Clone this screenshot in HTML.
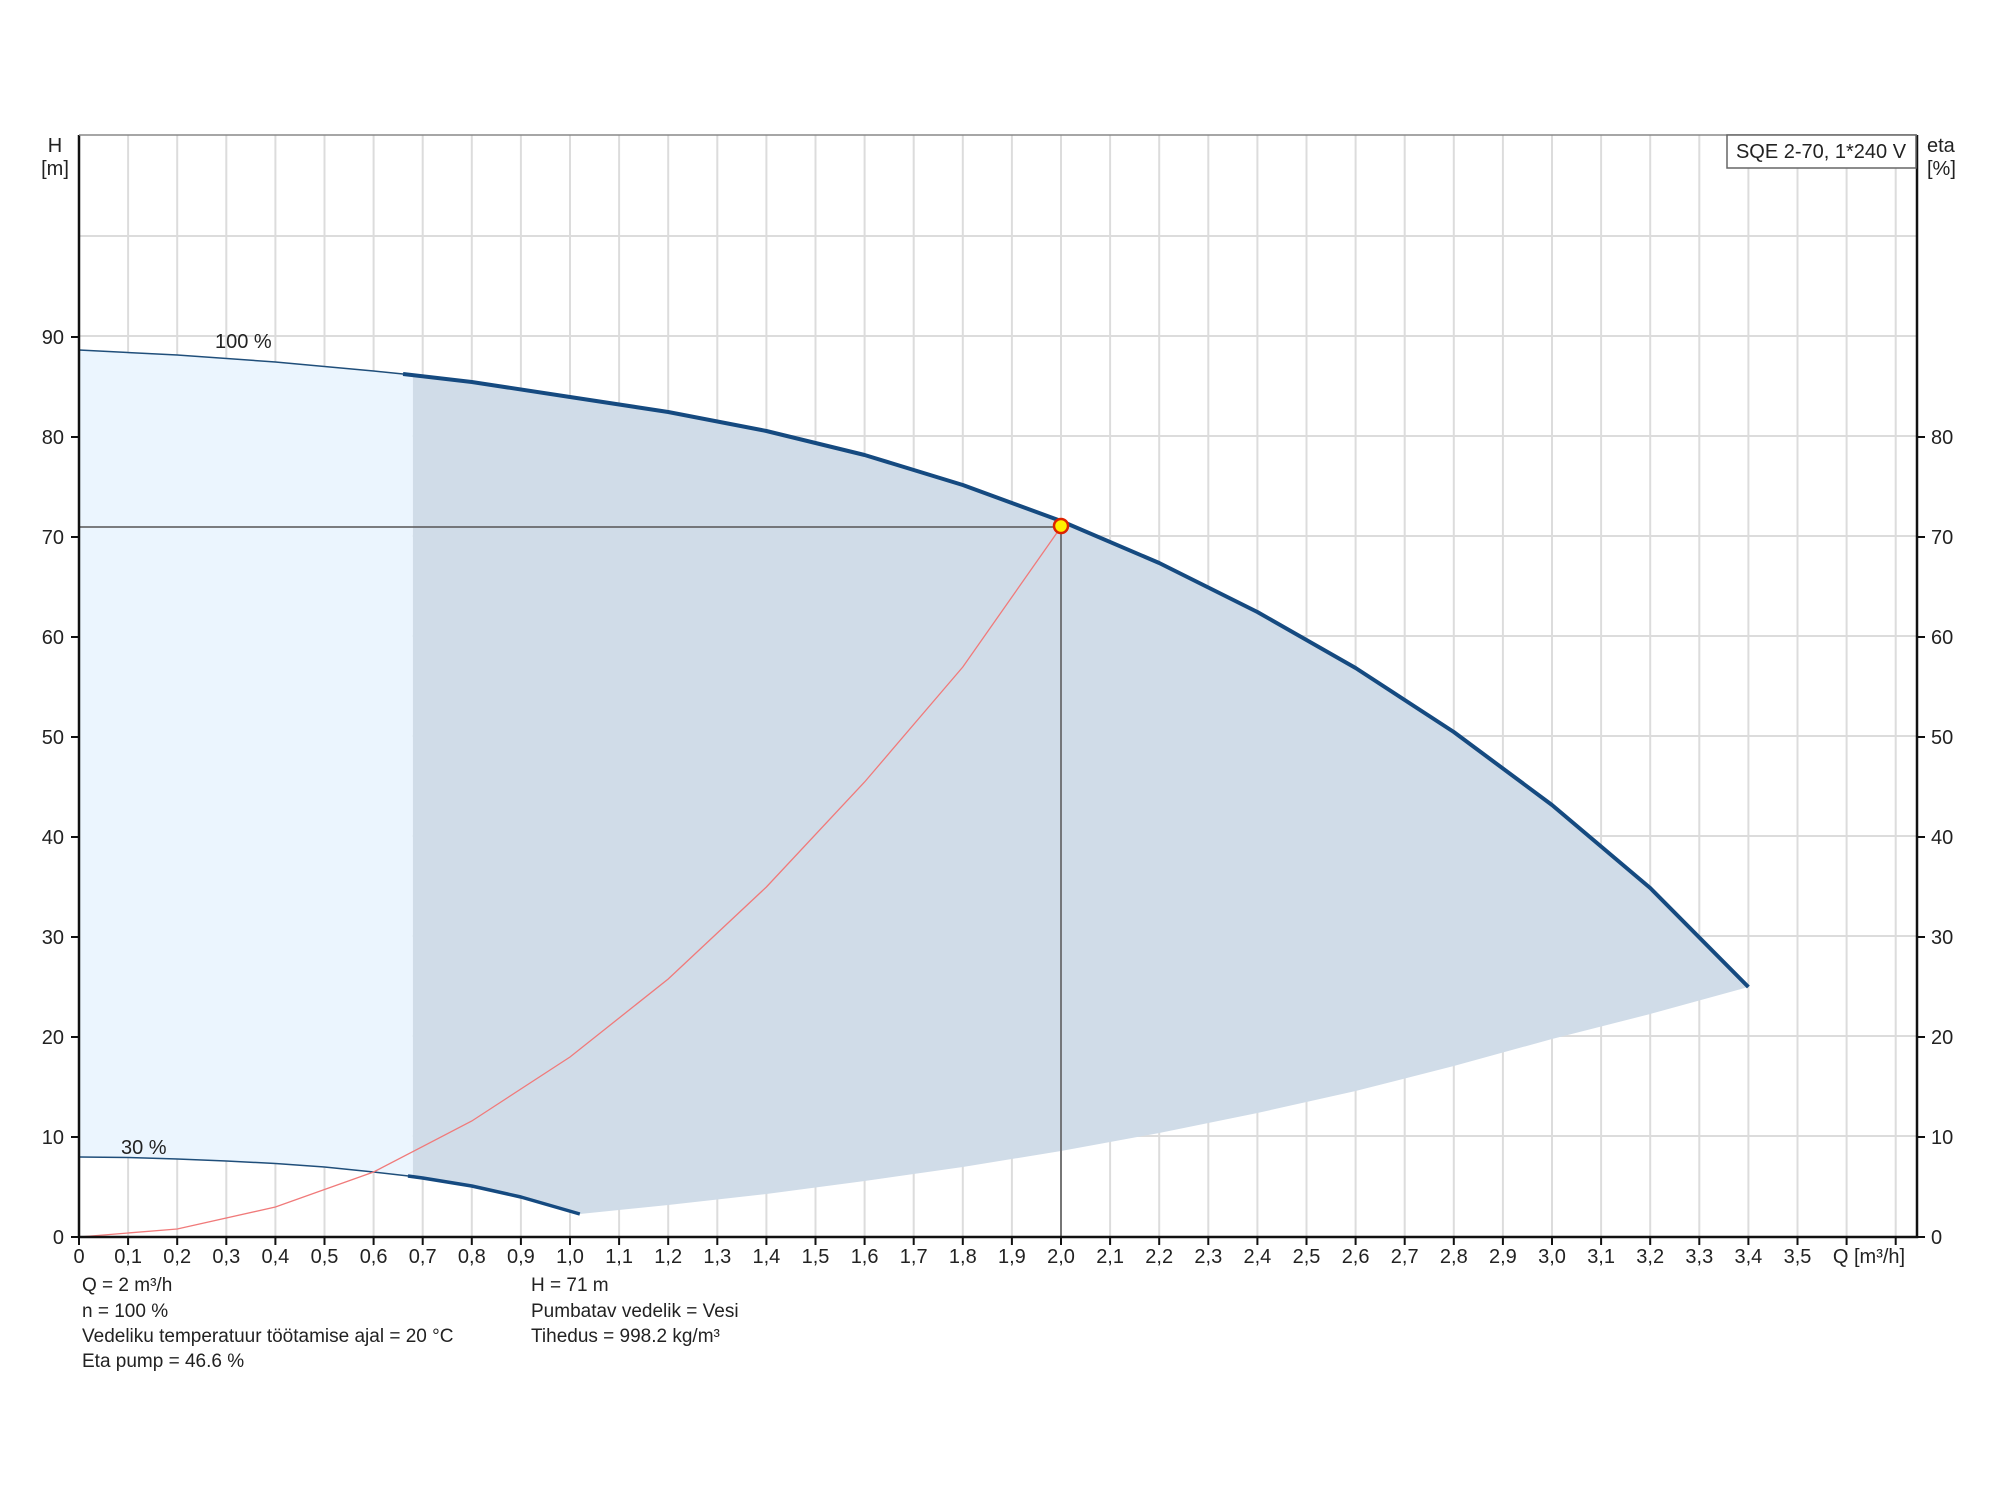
<!DOCTYPE html>
<html><head><meta charset="utf-8"><style>
html,body{margin:0;padding:0;background:#fff;}
svg{display:block;font-family:"Liberation Sans",sans-serif;}
</style></head><body>
<svg width="2000" height="1500" viewBox="0 0 2000 1500" xmlns="http://www.w3.org/2000/svg">
<g id="grid" stroke="#dcdcdc" stroke-width="2">
<path d="M79 1136H1916M79 1036H1916M79 936H1916M79 836H1916M79 736H1916M79 636H1916M79 536H1916M79 436H1916M79 336H1916M79 236H1916"/>
<path d="M128.1 135V1237M177.2 135V1237M226.3 135V1237M275.4 135V1237M324.5 135V1237M373.6 135V1237M422.7 135V1237M471.8 135V1237M520.9 135V1237M570 135V1237M619.1 135V1237M668.2 135V1237M717.3 135V1237M766.4 135V1237M815.5 135V1237M864.6 135V1237M913.7 135V1237M962.8 135V1237M1011.9 135V1237M1061 135V1237M1110.1 135V1237M1159.2 135V1237M1208.3 135V1237M1257.4 135V1237M1306.5 135V1237M1355.6 135V1237M1404.7 135V1237M1453.8 135V1237M1502.9 135V1237M1552 135V1237M1601.1 135V1237M1650.2 135V1237M1699.3 135V1237M1748.4 135V1237M1797.5 135V1237M1846.6 135V1237M1895.7 135V1237"/>
</g>
<g transform="translate(79,1237) scale(491,-10)">
<polygon fill="#ebf5fe" points="0,8 0,88.7 0.2,88.2 0.4,87.5 0.6,86.6 0.68,86.2 0.68,6.1 0.6,6.5 0.5,7.0 0.4,7.35 0.3,7.6 0.2,7.8 0.1,7.95"/>
<polygon fill="#d0dce8" points="0.68,86.2 0.8,85.5 1.0,84 1.2,82.5 1.4,80.6 1.6,78.2 1.8,75.2 2.0,71.6 2.2,67.4 2.4,62.5 2.6,56.9 2.8,50.5 3.0,43.2 3.2,34.9 3.4,25 3.2,22.3 3.0,19.8 2.8,17.1 2.6,14.6 2.4,12.4 2.2,10.4 2.0,8.6 1.8,7 1.6,5.6 1.4,4.3 1.2,3.2 1.02,2.3 0.9,4.0 0.8,5.1 0.7,5.9 0.68,6.1"/>
<polyline fill="none" stroke="#1f4e7a" stroke-width="1.5" vector-effect="non-scaling-stroke" points="0,88.7 0.2,88.2 0.4,87.5 0.6,86.6 0.67,86.25"/>
<polyline fill="none" stroke="#154a80" stroke-width="4" stroke-linejoin="round" vector-effect="non-scaling-stroke" points="0.66,86.3 0.8,85.5 1.0,84 1.2,82.5 1.4,80.6 1.6,78.2 1.8,75.2 2.0,71.6 2.2,67.4 2.4,62.5 2.6,56.9 2.8,50.5 3.0,43.2 3.2,34.9 3.4,25"/>
<polyline fill="none" stroke="#1f4e7a" stroke-width="1.5" vector-effect="non-scaling-stroke" points="0,8 0.1,7.95 0.2,7.8 0.3,7.6 0.4,7.35 0.5,7.0 0.6,6.5 0.68,6.05"/>
<polyline fill="none" stroke="#154a80" stroke-width="3.5" stroke-linejoin="round" vector-effect="non-scaling-stroke" points="0.67,6.1 0.7,5.9 0.8,5.1 0.9,4.0 1.02,2.3"/>
<polyline fill="none" stroke="#f07a7a" stroke-width="1.3" vector-effect="non-scaling-stroke" points="0,0 0.2,0.8 0.4,3 0.6,6.5 0.8,11.6 1.0,18 1.2,25.8 1.4,35 1.6,45.5 1.8,57 2.0,71"/>
<polyline fill="none" stroke="#555" stroke-width="1.5" vector-effect="non-scaling-stroke" points="0,71 2,71 2,0"/>
</g>
<circle cx="1061" cy="526" r="7" fill="#ffee00" stroke="#dd2200" stroke-width="2.5"/>
<g stroke="#111" stroke-width="2.5" fill="none">
<path d="M79 135V1237H1917V135"/>
<path d="M79 135H1917" stroke="#888" stroke-width="1.5"/>
</g>
<g stroke="#111" stroke-width="2">
<path d="M71 1237H79M71 1137H79M71 1037H79M71 937H79M71 837H79M71 737H79M71 637H79M71 537H79M71 437H79M71 337H79"/>
<path d="M1917 1237H1925M1917 1137H1925M1917 1037H1925M1917 937H1925M1917 837H1925M1917 737H1925M1917 637H1925M1917 537H1925M1917 437H1925"/>
<path d="M79 1237V1245M128.1 1237V1245M177.2 1237V1245M226.3 1237V1245M275.4 1237V1245M324.5 1237V1245M373.6 1237V1245M422.7 1237V1245M471.8 1237V1245M520.9 1237V1245M570 1237V1245M619.1 1237V1245M668.2 1237V1245M717.3 1237V1245M766.4 1237V1245M815.5 1237V1245M864.6 1237V1245M913.7 1237V1245M962.8 1237V1245M1011.9 1237V1245M1061 1237V1245M1110.1 1237V1245M1159.2 1237V1245M1208.3 1237V1245M1257.4 1237V1245M1306.5 1237V1245M1355.6 1237V1245M1404.7 1237V1245M1453.8 1237V1245M1502.9 1237V1245M1552 1237V1245M1601.1 1237V1245M1650.2 1237V1245M1699.3 1237V1245M1748.4 1237V1245M1797.5 1237V1245M1846.6 1237V1245M1895.7 1237V1245"/>
</g>
<g font-size="20" fill="#222" text-anchor="end">
<text x="64" y="1244">0</text><text x="64" y="1144">10</text><text x="64" y="1044">20</text><text x="64" y="944">30</text><text x="64" y="844">40</text><text x="64" y="744">50</text><text x="64" y="644">60</text><text x="64" y="544">70</text><text x="64" y="444">80</text><text x="64" y="344">90</text>
</g>
<g font-size="20" fill="#222">
<text x="1931" y="1244">0</text><text x="1931" y="1144">10</text><text x="1931" y="1044">20</text><text x="1931" y="944">30</text><text x="1931" y="844">40</text><text x="1931" y="744">50</text><text x="1931" y="644">60</text><text x="1931" y="544">70</text><text x="1931" y="444">80</text>
</g>
<g font-size="20" fill="#222" text-anchor="middle">
<text x="79" y="1263">0</text><text x="128.1" y="1263">0,1</text><text x="177.2" y="1263">0,2</text><text x="226.3" y="1263">0,3</text><text x="275.4" y="1263">0,4</text><text x="324.5" y="1263">0,5</text><text x="373.6" y="1263">0,6</text><text x="422.7" y="1263">0,7</text><text x="471.8" y="1263">0,8</text><text x="520.9" y="1263">0,9</text><text x="570" y="1263">1,0</text><text x="619.1" y="1263">1,1</text><text x="668.2" y="1263">1,2</text><text x="717.3" y="1263">1,3</text><text x="766.4" y="1263">1,4</text><text x="815.5" y="1263">1,5</text><text x="864.6" y="1263">1,6</text><text x="913.7" y="1263">1,7</text><text x="962.8" y="1263">1,8</text><text x="1011.9" y="1263">1,9</text><text x="1061" y="1263">2,0</text><text x="1110.1" y="1263">2,1</text><text x="1159.2" y="1263">2,2</text><text x="1208.3" y="1263">2,3</text><text x="1257.4" y="1263">2,4</text><text x="1306.5" y="1263">2,5</text><text x="1355.6" y="1263">2,6</text><text x="1404.7" y="1263">2,7</text><text x="1453.8" y="1263">2,8</text><text x="1502.9" y="1263">2,9</text><text x="1552" y="1263">3,0</text><text x="1601.1" y="1263">3,1</text><text x="1650.2" y="1263">3,2</text><text x="1699.3" y="1263">3,3</text><text x="1748.4" y="1263">3,4</text><text x="1797.5" y="1263">3,5</text><text x="1869" y="1263">Q [m³/h]</text>
<text x="55" y="152">H</text><text x="55" y="175">[m]</text>
</g>
<g font-size="20" fill="#222">
<text x="1927" y="152">eta</text><text x="1927" y="175">[%]</text>
<text x="215" y="348">100 %</text>
<text x="121" y="1154">30 %</text>
</g>
<rect x="1727" y="135" width="189" height="33" fill="#fff" stroke="#666" stroke-width="1.5"/>
<text x="1821" y="158" font-size="20" fill="#222" text-anchor="middle">SQE 2-70, 1*240 V</text>
<g font-size="19" fill="#222">
<text x="82" y="1291">Q = 2 m³/h</text>
<text x="82" y="1317">n = 100 %</text>
<text x="82" y="1342">Vedeliku temperatuur töötamise ajal = 20 °C</text>
<text x="82" y="1367">Eta pump = 46.6 %</text>
<text x="531" y="1291">H = 71 m</text>
<text x="531" y="1317">Pumbatav vedelik = Vesi</text>
<text x="531" y="1342">Tihedus = 998.2 kg/m³</text>
</g>
</svg>
</body></html>
